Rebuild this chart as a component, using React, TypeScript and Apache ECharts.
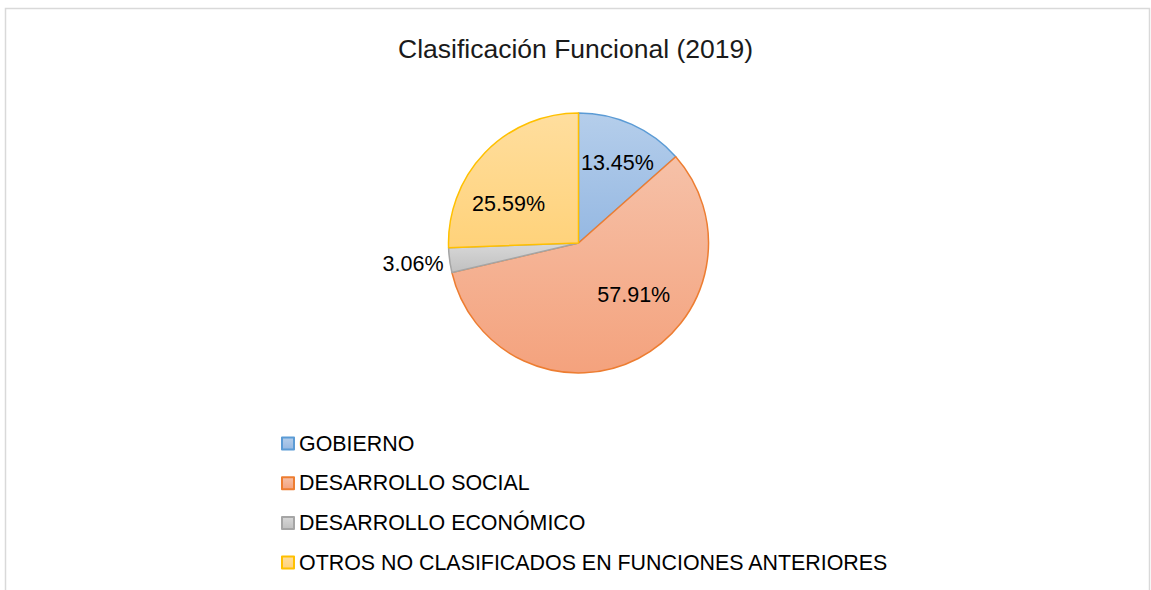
import React, { useEffect, useRef } from "react";
import * as echarts from "echarts";

const titleText = "Clasificación Funcional (2019)";
const categories = [
  "GOBIERNO",
  "DESARROLLO SOCIAL",
  "DESARROLLO ECONÓMICO",
  "OTROS NO CLASIFICADOS EN FUNCIONES ANTERIORES",
];
const values = [13.45, 57.91, 3.06, 25.59];
const topColors = ["#b5ceeb", "#f6c1a8", "#d8d8d8", "#ffde9e"];
const bottomColors = ["#95b8e2", "#f4a27d", "#c0c0c0", "#ffd27a"];
const borderColors = ["#5b9bd5", "#ed7d31", "#a5a5a5", "#ffc000"];
const labelOffsets: number[][] = [
  [11, -18],
  [24, -8],
  [-98, 12],
  [-21, 8],
];

const FONT = "'Liberation Sans', Arial, sans-serif";

export default function App() {
  const ref = useRef<HTMLDivElement>(null);
  useEffect(() => {
    if (!ref.current) return;
    const chart = echarts.init(ref.current, undefined, { renderer: "svg" });
    const data = categories.map((name, i) => ({
      name,
      value: values[i],
      itemStyle: {
        color: new echarts.graphic.LinearGradient(0, 0, 0, 1, [
          { offset: 0, color: topColors[i] },
          { offset: 1, color: bottomColors[i] },
        ]),
        borderColor: borderColors[i],
        borderWidth: 1.5,
      },
      label: { offset: labelOffsets[i] },
    }));
    chart.setOption({
      animation: false,
      backgroundColor: "#ffffff",
      graphic: [
        {
          type: "rect",
          shape: { x: 5.5, y: 8.5, width: 1144, height: 620 },
          style: { fill: "none", stroke: "#d9d9d9", lineWidth: 1.5 },
          silent: true,
        },
      ],
      title: {
        text: titleText,
        left: "center",
        top: 30,
        textStyle: {
          fontFamily: FONT,
          fontSize: 26.5,
          fontWeight: "normal",
          color: "#1a1a1a",
        },
      },
      legend: {
        orient: "vertical",
        left: 276,
        top: 428,
        itemWidth: 12,
        itemHeight: 12,
        itemGap: 18.7,
        icon: "rect",
        selectedMode: false,
        textStyle: {
          fontFamily: FONT,
          fontSize: 21.4,
          lineHeight: 21,
          color: "#000",
        },
        data: categories,
      },
      series: [
        {
          type: "pie",
          center: [578.5, 243],
          radius: [0, 130],
          startAngle: 90,
          clockwise: true,
          avoidLabelOverlap: false,
          data,
          label: {
            show: true,
            position: "inside",
            rotate: 0,
            fontFamily: FONT,
            fontSize: 21.5,
            color: "#000",
            formatter: (p: any) => `${Number(p.value).toFixed(2)}%`,
          },
          labelLine: { show: false },
          emphasis: { disabled: true },
        },
      ],
    });
    return () => chart.dispose();
  }, []);
  return (
    <div
      ref={ref}
      style={{ position: "absolute", left: 0, top: 0, width: 1151, height: 590 }}
    />
  );
}
